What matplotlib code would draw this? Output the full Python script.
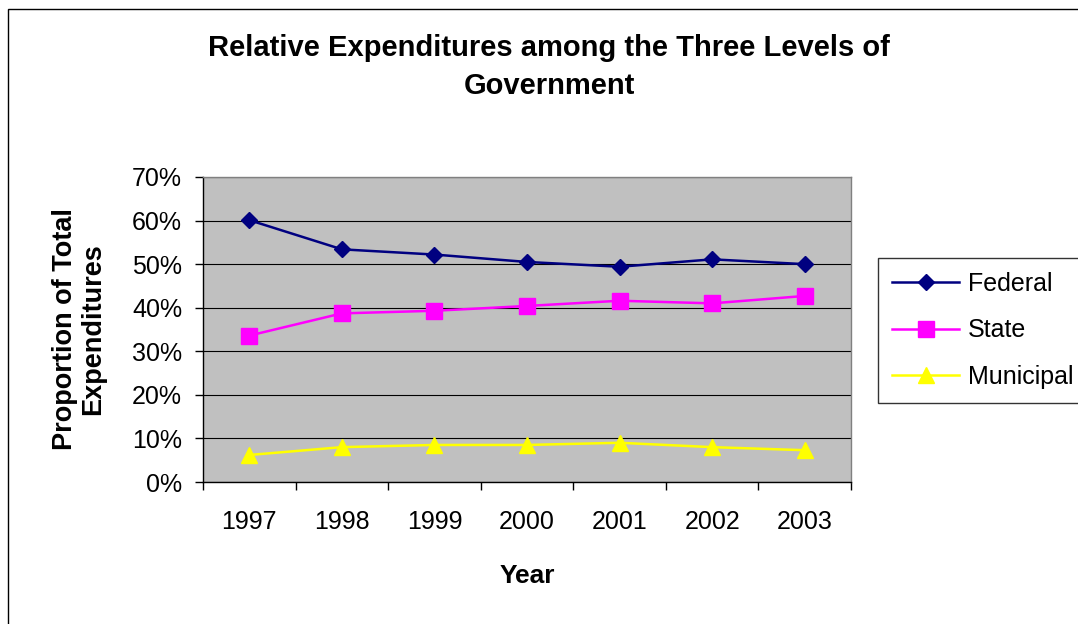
import numpy as np
import matplotlib
matplotlib.use('Agg')
import matplotlib.pyplot as plt
from matplotlib.patches import Rectangle

plt.rcParams['font.family'] = ['Liberation Sans', 'DejaVu Sans']

# data (share of total spending, %)
years = ['1997', '1998', '1999', '2000', '2001', '2002', '2003']
federal = [60.1, 53.4, 52.2, 50.5, 49.4, 51.1, 50.0]
state = [33.6, 38.7, 39.3, 40.4, 41.6, 41.0, 42.7]
municipal = [6.2, 8.0, 8.5, 8.5, 9.0, 8.0, 7.3]
yticks = [0, 10, 20, 30, 40, 50, 60, 70]

W, H = 1078, 624
fig = plt.figure(figsize=(W / 100, H / 100), dpi=100, facecolor='white')
ax = fig.add_axes([203 / W, 1 - 482 / H, (851 - 203) / W, (482 - 177) / H])
ax.set_facecolor('#C0C0C0')

x = np.arange(len(years))
ax.plot(x, federal, color='#000080', lw=1.8, marker='D', ms=8.5, label='Federal', zorder=5)
ax.plot(x, state, color='#FF00FF', lw=1.8, marker='s', ms=12, label='State', zorder=5)
ax.plot(x, municipal, color='#FFFF00', lw=1.8, marker='^', ms=12, label='Municipal', zorder=5)

ax.set_xlim(-0.5, len(years) - 0.5)
ax.set_ylim(0, 70)
ax.set_yticks(yticks)
ax.set_yticklabels([f'{v}%' for v in yticks])
ax.set_xticks(x)
ax.set_xticklabels(years)
ax.set_xticks(np.arange(-0.5, len(years), 1), minor=True)
ax.tick_params(axis='x', which='major', length=0, labelsize=18, pad=20)
ax.tick_params(axis='x', which='minor', length=6, width=1, direction='out')
ax.tick_params(axis='y', length=6, width=1, direction='out', labelsize=18, pad=9)
ax.grid(True, axis='y', color='black', lw=0.8)
ax.set_axisbelow(True)
for s in ['left', 'bottom']:
    ax.spines[s].set_color('black')
    ax.spines[s].set_linewidth(1.0)
for s in ['top', 'right']:
    ax.spines[s].set_color('#808080')
    ax.spines[s].set_linewidth(1.0)

ax.set_xlabel('Year', fontsize=19, fontweight='bold', labelpad=22)
fig.text(79 / W, 1 - 329 / H, 'Proportion of Total\nExpenditures', rotation=90,
         ha='center', va='center', fontsize=19.5, fontweight='bold', linespacing=1.15)

fig.text(549 / W, 1 - 67 / H, 'Relative Expenditures among the Three Levels of\nGovernment',
         ha='center', va='center', fontsize=21, fontweight='bold', linespacing=1.45)

leg = fig.legend(loc='upper left', bbox_to_anchor=(878 / W, 1 - 258 / H),
                 borderaxespad=0, fontsize=18, frameon=True, fancybox=False,
                 edgecolor='black', handlelength=2.7, labelspacing=0.9,
                 borderpad=0.55, handletextpad=0.36)
leg.get_frame().set_linewidth(1.0)

# outer chart border
fig.patches.append(Rectangle((8 / W, -0.1), 1.2, 1 - 9 / H + 0.1, transform=fig.transFigure,
                             fill=False, edgecolor='black', lw=1.0))

fig.savefig('out.png', dpi=100, facecolor='white')
